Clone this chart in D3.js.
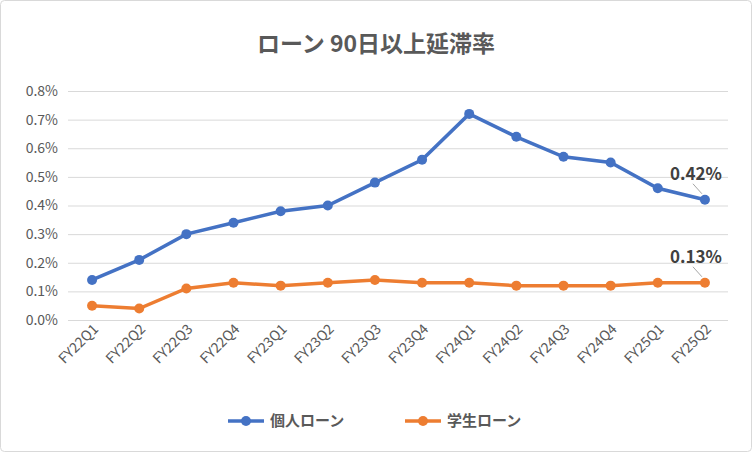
<!DOCTYPE html>
<html>
  <head>
    <meta charset="utf-8">
    <script src="https://d3js.org/d3.v7.min.js"></script>
    <style>
      body { margin: 0px; background: #fff; }
      .domain { display: none; }
      .tick line { stroke: #D9D9D9; }
      .tick text { fill: #595959; font-size: 14px; font-family: "Noto Sans CJK JP", sans-serif; }
    </style>
  </head>
  <body>
    <svg width="752" height="452"></svg>
    <script>
      const quarters = ['FY22Q1','FY22Q2','FY22Q3','FY22Q4','FY23Q1','FY23Q2','FY23Q3','FY23Q4',
                        'FY24Q1','FY24Q2','FY24Q3','FY24Q4','FY25Q1','FY25Q2'];
      const personal = [0.14,0.21,0.30,0.34,0.38,0.40,0.48,0.56,0.72,0.64,0.57,0.55,0.46,0.42];
      const student = [0.05,0.04,0.11,0.13,0.12,0.13,0.14,0.13,0.13,0.12,0.12,0.12,0.13,0.13];
      const yTickValues = [0,0.1,0.2,0.3,0.4,0.5,0.6,0.7,0.8];
      const seriesNames = ['個人ローン','学生ローン'];
      const colors = ['#4472C4','#ED7D31'];
      const font = '"Noto Sans CJK JP", sans-serif';

      const svg = d3.select('svg');
      svg.append('rect').attr('x', 0.5).attr('y', 0.5).attr('width', 751).attr('height', 451)
          .attr('rx', 4).attr('fill', '#fff').attr('stroke', '#D9D9D9');

      svg.append('text').attr('x', 376).attr('y', 52).attr('text-anchor', 'middle')
          .attr('font-family', font).attr('font-size', 23).attr('font-weight', 'bold')
          .attr('fill', '#595959').text('ローン 90日以上延滞率');

      const xScale = d3.scaleBand().domain(quarters).range([68.5, 728.5]);
      const yScale = d3.scaleLinear().domain([0, 0.8]).range([320, 91]);

      const yAxisG = svg.append('g').attr('transform', 'translate(68,0)')
          .call(d3.axisLeft(yScale).tickValues(yTickValues).tickSize(-660).tickPadding(10)
            .tickFormat(d => d.toFixed(1) + '%'));
      yAxisG.selectAll('.tick line').attr('x1', 0);

      const xAxisG = svg.append('g').attr('transform', 'translate(0,320)')
          .call(d3.axisBottom(xScale).tickSize(0));
      xAxisG.selectAll('.tick text')
          .attr('transform', 'rotate(-45)')
          .attr('text-anchor', 'end')
          .attr('x', -2).attr('y', 12).attr('dy', 0);

      const cx = d => xScale(d) + xScale.bandwidth() / 2;
      [personal, student].forEach((vals, i) => {
        const line = d3.line().x((v, j) => cx(quarters[j])).y(v => yScale(v));
        svg.append('path').datum(vals).attr('d', line).attr('fill', 'none')
            .attr('stroke', colors[i]).attr('stroke-width', 3.5);
        svg.selectAll('.pt' + i).data(vals).enter().append('circle')
            .attr('cx', (v, j) => cx(quarters[j])).attr('cy', v => yScale(v))
            .attr('r', 5).attr('fill', colors[i]);
        const last = vals[vals.length - 1];
        const lx = cx(quarters[quarters.length - 1]);
        const ly = yScale(last);
        svg.append('line').attr('x1', lx - 3).attr('y1', ly - 6).attr('x2', lx - 12).attr('y2', ly - 16)
            .attr('stroke', '#A6A6A6');
        svg.append('text').attr('x', lx - 9).attr('y', ly - 20).attr('text-anchor', 'middle')
            .attr('font-family', font).attr('font-size', 17).attr('font-weight', 'bold')
            .attr('fill', '#404040').text(last.toFixed(2) + '%');
      });

      const legend = svg.append('g').attr('transform', 'translate(0,421)');
      [228, 405].forEach((x, i) => {
        legend.append('line').attr('x1', x).attr('x2', x + 36).attr('stroke', colors[i]).attr('stroke-width', 3.5);
        legend.append('circle').attr('cx', x + 18).attr('r', 5).attr('fill', colors[i]);
        legend.append('text').attr('x', x + 42).attr('y', 5).attr('font-family', font).attr('font-size', 15)
            .attr('font-weight', 'bold').attr('fill', '#595959').text(seriesNames[i]);
      });
    </script>
  </body>
</html>
